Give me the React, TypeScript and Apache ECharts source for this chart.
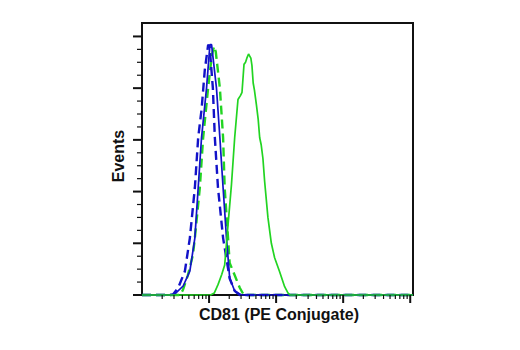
import React, { useEffect, useRef } from "react";
import * as echarts from "echarts";

// [fluorescence, events]
const blueDashed: [number, number][] = [
  [1, 0], [2.6, 0], [2.9, 0.5], [3.47, 7], [4.36, 23], [5.17, 55], [6.14, 103.5], [6.88, 152],
  [7.72, 179], [8.65, 218], [9.7, 242], [10.2, 240], [11.4, 200], [12.2, 152], [13.6, 103.5],
  [16.2, 55], [20.3, 16], [24.1, 4], [28.7, 0], [11000, 0],
];
const blueSolid: [number, number][] = [
  [1, 0], [2.6, 0], [3.1, 1], [4.11, 8.7], [5.17, 23], [6.14, 55], [6.88, 103.5], [7.72, 152],
  [9.17, 200], [10.3, 242], [10.9, 242], [12.9, 200], [14.5, 152], [16.2, 103.5], [18.2, 55],
  [20.3, 16.4], [24.1, 3.9], [30.4, 0], [11000, 0],
];
const greenDashed: [number, number][] = [
  [1, 0], [3.7, 0], [4.07, 4.8], [4.83, 19], [5.74, 38.7], [6.14, 55], [7.28, 103.5], [8.16, 152],
  [9.68, 200], [11.0, 232], [11.9, 240.5], [12.6, 235], [14.5, 200], [16.2, 152], [17.1, 103.5],
  [19.2, 55], [20.3, 31], [22.8, 23], [28.7, 7], [33, 0], [11000, 0],
];
const greenSolid: [number, number][] = [
  [1, 0], [10.5, 0], [12, 2], [13.6, 10], [15.5, 20], [17.1, 29], [18.2, 50], [19.2, 68],
  [21.6, 107], [24.1, 152], [27.0, 189], [29.5, 193], [31.0, 196], [33.2, 223], [35, 225],
  [36.6, 229], [38.8, 233], [40.4, 231], [42, 229], [43.6, 222], [45.5, 205], [47.5, 198],
  [50.8, 184], [54, 170], [56.9, 152], [60, 145], [63.6, 132], [67.4, 110], [75.5, 75],
  [84.9, 50], [95, 36], [112.8, 22.5], [134, 8], [150, 2], [161, 0], [11000, 0],
];

const xMajorTicks = [10, 100, 1000, 10000];
const xMinorTicks = [
  2, 3, 4, 5, 6, 7, 8, 9,
  20, 30, 40, 50, 60, 70, 80, 90,
  200, 300, 400, 500, 600, 700, 800, 900,
  2000, 3000, 4000, 5000, 6000, 7000, 8000, 9000,
];
const yMajorTicks = [0, 50, 100, 150, 200, 250];
const yMinorTicks = [12.5, 25, 37.5, 62.5, 75, 87.5, 112.5, 125, 137.5, 162.5, 175, 187.5, 212.5, 225, 237.5];

const X_MIN = 1;
const X_MAX = 11000;
const Y_MAX = 263;
const xTitle = "CD81 (PE Conjugate)";
const yTitle = "Events";

const BLUE = "#1212c8";
const GREEN = "#22d422";
const FONT = "'Liberation Sans', Arial, sans-serif";

function tickSeries(values: number[], axis: "x" | "y", len: number, width: number) {
  return {
    type: "custom",
    silent: true,
    clip: false,
    z: 5,
    data: values.map((v) => (axis === "x" ? [v, 0] : [X_MIN, v])),
    renderItem: (_params: any, api: any) => {
      const p = api.coord([api.value(0), api.value(1)]);
      const shape =
        axis === "x"
          ? { x1: p[0], y1: p[1], x2: p[0], y2: p[1] + len }
          : { x1: p[0] - len, y1: p[1], x2: p[0], y2: p[1] };
      return { type: "line", shape, style: { stroke: "#111", lineWidth: width } };
    },
  };
}

function lineSeries(name: string, data: [number, number][], color: string, dashed: boolean) {
  return {
    name,
    type: "line",
    data,
    showSymbol: false,
    clip: false,
    z: 3,
    lineStyle: {
      color,
      width: dashed ? 2.4 : 1.7,
      type: dashed ? [9, 5] : "solid",
    },
  };
}

export default function App() {
  const ref = useRef<HTMLDivElement>(null);
  useEffect(() => {
    if (!ref.current) return;
    const chart = echarts.init(ref.current, null, { renderer: "svg" });
    chart.setOption({
      animation: false,
      grid: {
        left: 142,
        right: 107,
        top: 23,
        bottom: 55,
        show: true,
        borderColor: "#111",
        borderWidth: 2,
      },
      xAxis: {
        type: "log",
        logBase: 10,
        min: X_MIN,
        max: X_MAX,
        axisLine: { show: true, lineStyle: { color: "#111", width: 2 } },
        axisTick: { show: false },
        axisLabel: { show: false },
        splitLine: { show: false },
      },
      yAxis: {
        type: "value",
        min: 0,
        max: Y_MAX,
        axisLine: { show: true, lineStyle: { color: "#111", width: 2 } },
        axisTick: { show: false },
        axisLabel: { show: false },
        splitLine: { show: false },
      },
      series: [
        lineSeries("green dashed", greenDashed, GREEN, true),
        lineSeries("blue dashed", blueDashed, BLUE, true),
        lineSeries("blue solid", blueSolid, BLUE, false),
        lineSeries("green solid", greenSolid, GREEN, false),
        tickSeries(xMajorTicks, "x", 8, 2),
        tickSeries(xMinorTicks, "x", 4, 1.2),
        tickSeries(yMajorTicks, "y", 9, 2),
        tickSeries(yMinorTicks, "y", 5, 1.2),
      ],
      graphic: [
        {
          type: "text",
          x: 279,
          y: 314,
          style: {
            text: xTitle,
            fontSize: 16,
            fontWeight: "bold",
            fontFamily: FONT,
            fill: "#111",
            align: "center",
            verticalAlign: "middle",
          },
        },
        {
          type: "text",
          x: 118,
          y: 156,
          rotation: Math.PI / 2,
          style: {
            text: yTitle,
            fontSize: 16,
            fontWeight: "bold",
            fontFamily: FONT,
            fill: "#111",
            align: "center",
            verticalAlign: "middle",
          },
        },
      ],
    });
    return () => chart.dispose();
  }, []);
  return (
    <div
      ref={ref}
      style={{ position: "fixed", left: 0, top: 0, width: 520, height: 350, background: "#fff" }}
    />
  );
}
